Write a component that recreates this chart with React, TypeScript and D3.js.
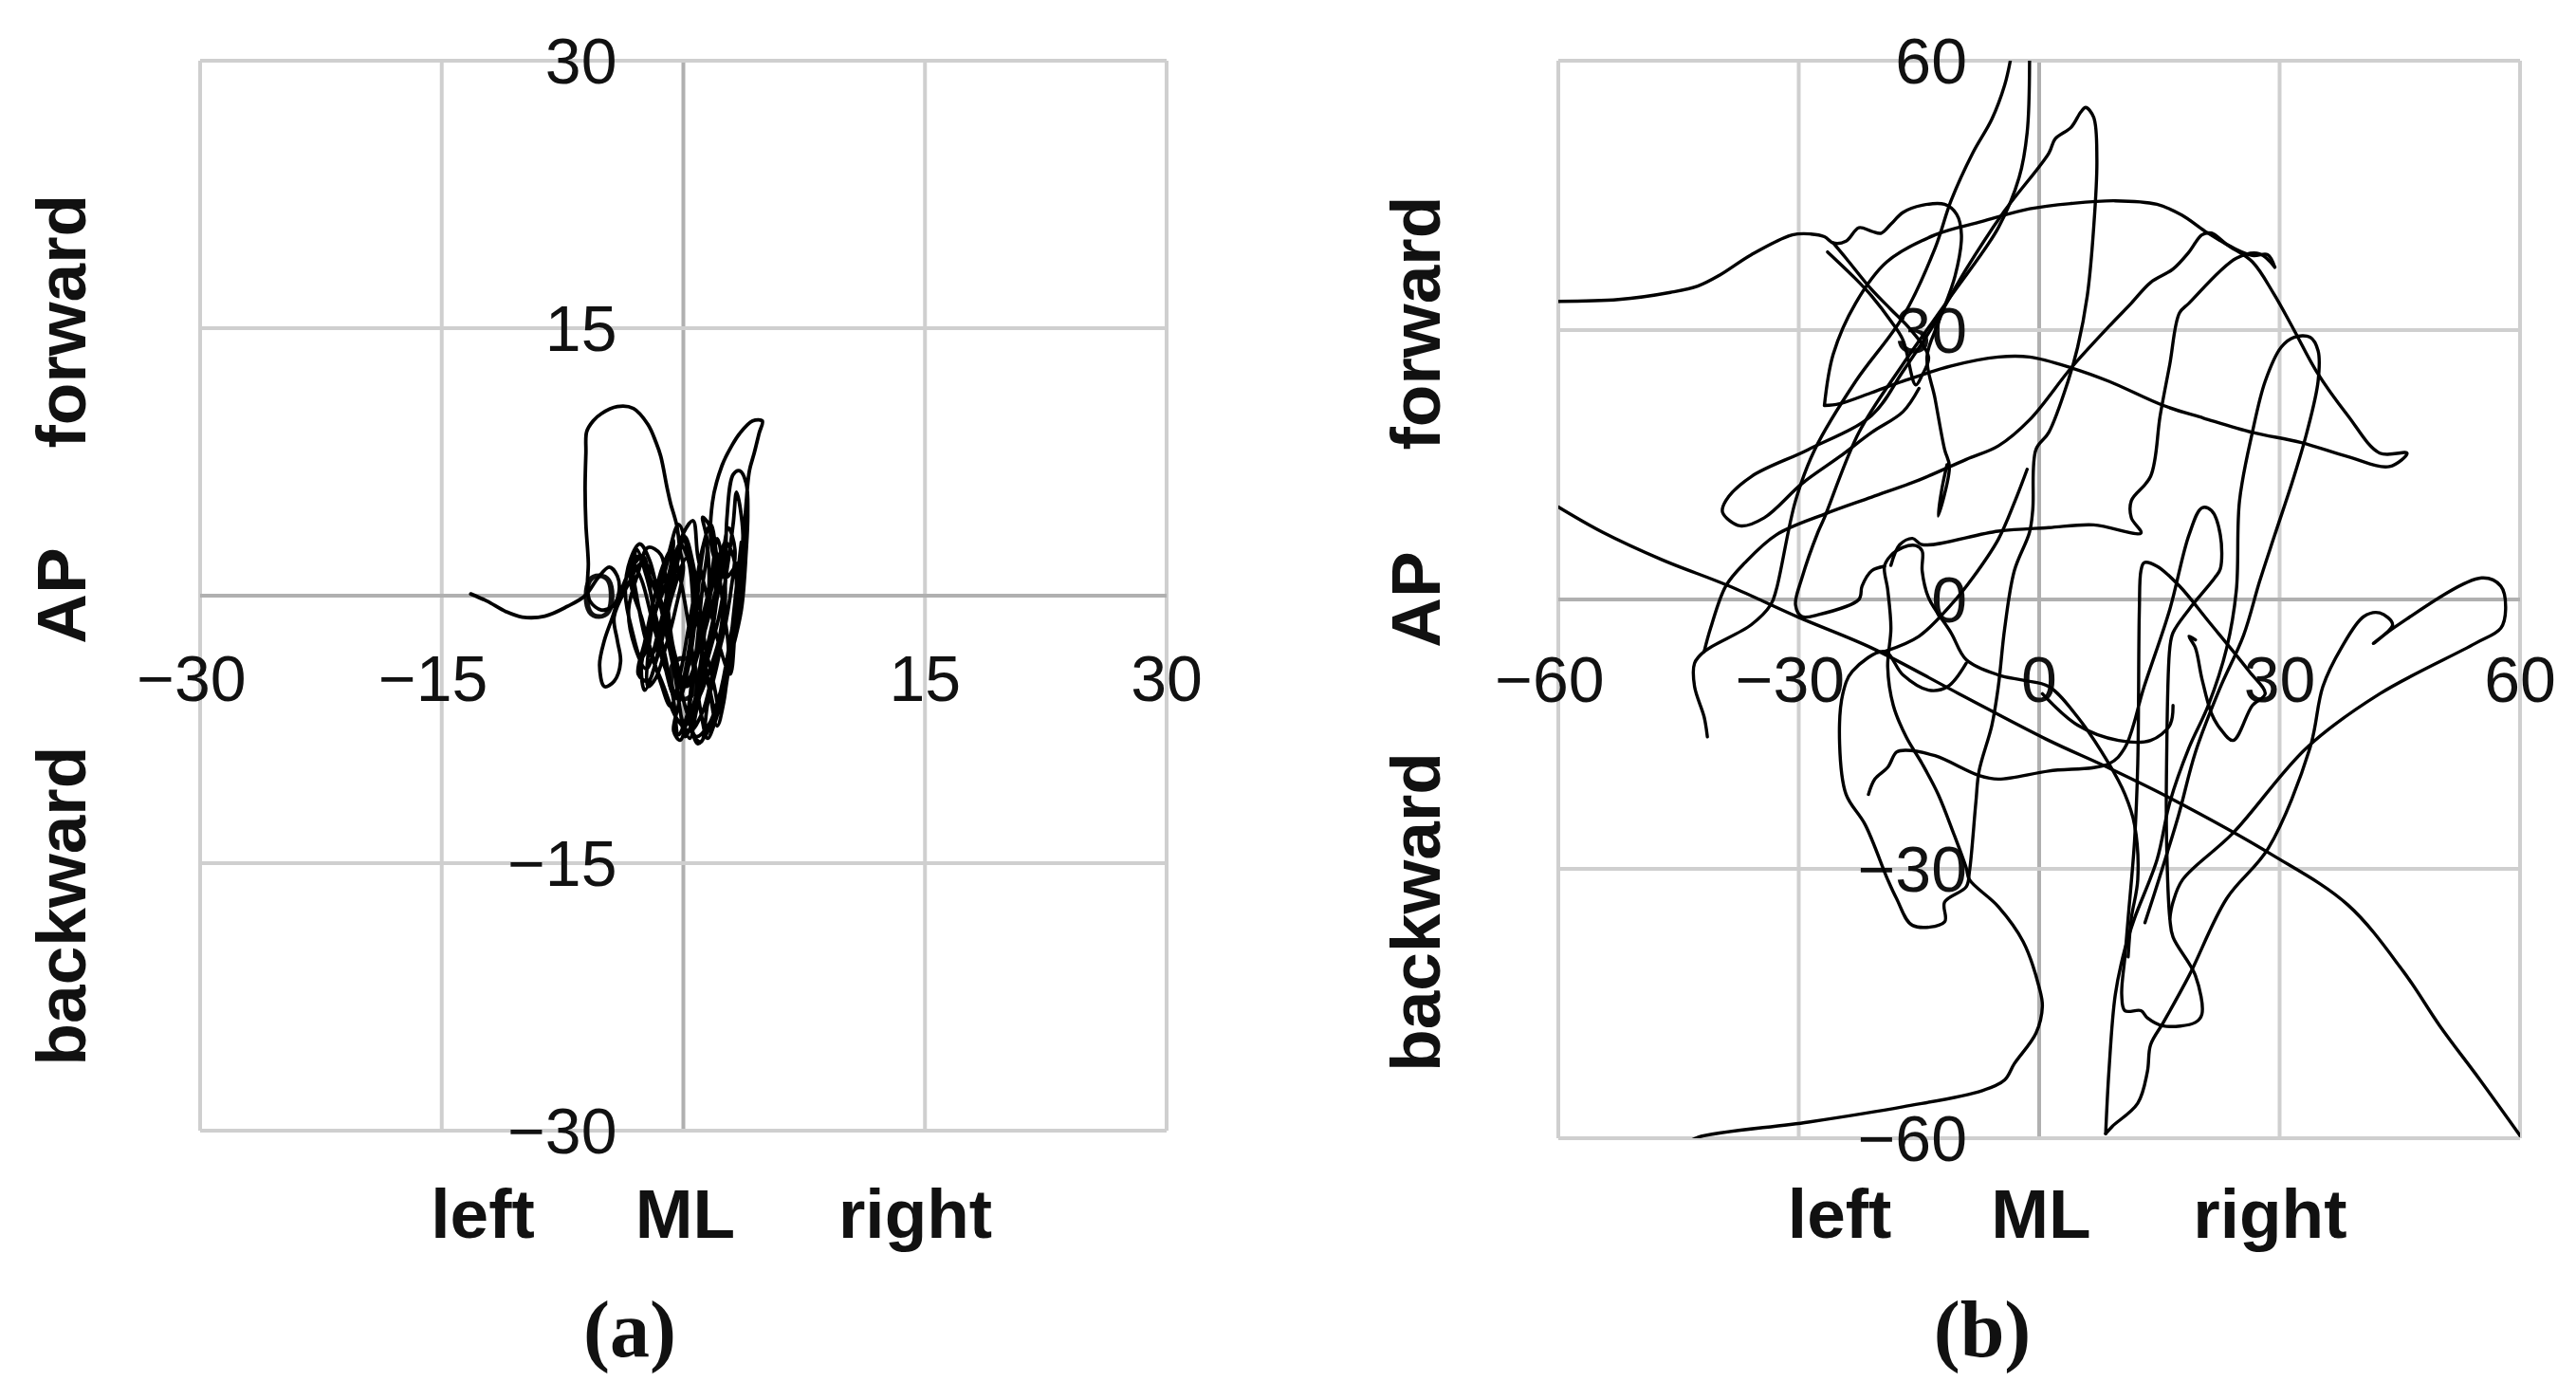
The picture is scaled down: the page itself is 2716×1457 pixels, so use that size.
import React, { useEffect, useRef } from 'react';
import * as d3 from 'd3';

type Pt = [number, number];

// tick values of the two panels
const TICKS_A = [-30, -15, 0, 15, 30];
const TICKS_B = [-60, -30, 0, 30, 60];
const AP_LABELS = ['forward', 'AP', 'backward'];
const ML_LABELS = ['left', 'ML', 'right'];
const CAPTIONS = ['(a)', '(b)'];

// panel (a): one sway trace (ML, AP) in the same units as the ticks
const SWAY_A: Pt[] = [
  [-13.2, 0.1], [-12.2, -0.3], [-11, -0.9], [-10, -1.2], [-8.6, -1.15], [-7.2, -0.6], [-6.1, 0], [-5.3, 1], [-4.6, 1.6],
  [-4.1, 1.1], [-4.0, 0.2], [-4.4, -0.6], [-5.1, -0.8], [-5.8, -0.3], [-5.95, 0.6], [-5.9, 1.8],
  [-6.05, 4], [-6.1, 6], [-6.05, 8], [-6, 9.2], [-5.6, 9.8], [-5.1, 10.2], [-4.1, 10.6], [-3.1, 10.5], [-2.2, 9.6],
  [-1.7, 8.6], [-1.4, 7.8], [-1, 6], [-0.8, 5.2], [-0.4, 3.9], [-0.2, 2.5], [0, 1.6],
  [-0.5, -0.8], [-1.1, -2.9], [-1.7, -4.6], [-2.2, -5.1], [-2.1, -2.6], [-1.4, 0.4], [-0.6, 3.1], [-0.9, 1.2],
  [-1.8, -1.1], [-2.6, -3.9], [-2.4, -5.3], [-1.5, -3.1], [-0.7, 0], [0.2, 2.1], [0.6, -0.9], [0.2, -3.8],
  [-0.3, -6.1], [-0.6, -7.6], [-0.2, -8.1], [0.3, -6.6], [0.8, -3.1], [1.2, 0.6], [1.5, 2.9], [1.2, 4.4],
  [1.8, 3.6], [2, 0.4], [1.6, -3], [1, -5.6], [0.6, -7.8], [1.1, -8.2], [1.5, -6.1], [2.2, -3.4], [2.6, -0.4],
  [2.4, 2.6], [1.9, 1], [1.2, -2.1], [0.4, -4.6], [-0.5, -5.6], [-1.2, -3.8], [-1.9, -1.5], [-2.6, 0.9],
  [-3.2, 1.9], [-2.9, 0], [-2.3, -2.6], [-1.3, -4.9], [-0.4, -6.9], [0.4, -7.6], [1.2, -6.5], [1.8, -4.4],
  [2.5, -2.1], [3, 0.6], [3.2, 2.6], [2.8, 3.8], [2.3, 1.4], [1.6, -1.1], [0.9, -3.3], [0.2, -5.1], [-0.6, -3],
  [-1, -0.4], [-1.4, 2.3], [-2.2, 2.7], [-2.8, 1.3], [-3.4, -0.8], [-3, -2.9], [-2.3, -4.1], [-1.6, -2.2],
  [-0.9, 0.5], [-0.2, 2.9], [0.5, 1.4], [0.9, -1.6], [1.4, -4.1], [2, -6.3], [2.4, -5], [2.9, -2.5], [3.3, -0.1],
  [3.5, 1.9], [2.6, 1], [1.8, 2.5], [1.8, 5.2], [2.4, 7.3], [3, 8.4], [3.5, 9.1], [4.3, 9.8], [4.9, 9.8],
  [4.7, 9.1], [4.4, 8], [4.1, 7], [3.9, 5.2], [3.7, 2.5], [3.5, -0.2], [3.1, -2.8], [2.7, -4.6], [2.1, -6.4],
  [1.4, -7.8], [0.9, -8.3], [0.5, -7], [1.3, -5], [2.2, -2.5], [2.6, 0.5], [2.7, 4.3], [3.1, 6.8], [3.5, 7],
  [3.9, 6.3], [4, 4.5], [3.9, 2.5], [3.6, -0.8], [3, -3.2], [2.3, -5.4], [1.6, -7.2], [0.8, -7.9],
  [0.2, -6.5], [-0.4, -4.2], [-1, -1.8], [-1.8, 0.4], [-2.6, 1.8], [-3.5, 0.5], [-4.3, -1.2], [-4.1, -2.5],
  [-3.9, -3.7], [-4.3, -4.8], [-4.9, -5.1], [-5.2, -3.9], [-4.9, -2.5], [-4.4, -1.2], [-3.9, 0.2], [-3.2, 1.6],
  [-2.5, 2.2], [-2, 0], [-1.6, -2.6], [-1, -4.4], [-0.3, -5.8], [0.4, -3.6], [0.8, -0.8], [1.1, 1.8], [1.4, 3.2],
  [1.6, 1], [1.3, -2.2], [0.9, -4.8], [0.5, -7.2], [0.1, -7.9], [-0.2, -6.4], [-0.7, -3.2], [-1.3, -0.6],
  [-2, 1.4], [-2.9, 2.2], [-3.3, 0.9], [-2.6, -1.2], [-1.9, -3.2], [-1.2, -1.2], [-0.6, 1.6], [0, 3.5],
  [0.6, 4.2], [0.9, 2.2], [1.6, -0.5], [2.3, -3], [2.9, -4.4], [3.2, -2], [3.4, 0.8], [3.7, 3.4], [3.3, 5.8],
  [3.1, 4.1], [2.7, 1.4], [2.2, -1.2], [1.5, -3.6], [0.8, -6], [0.3, -7.2],
  [0.9, -5.2], [1.5, -2.8], [2, -0.6], [2.4, 1.8], [2.1, 3.2], [1.7, 0.8], [1.1, -1.6], [0.6, -4.2], [0.2, -6.8],
  [-0.3, -7.8], [-0.6, -5.9], [-1.1, -3.5], [-1.7, -1.2], [-2.3, 1.1], [-2.9, 2.6], [-3.1, 1.2], [-2.7, -0.9],
  [-2, -3.1], [-1.4, -4.9], [-0.8, -6.2], [-0.2, -4.4], [0.3, -1.9], [0.8, 0.7], [1.2, 2.7], [1.7, 4],
  [2.1, 2], [2.5, -0.8], [2.8, -3.1], [2.5, -5.3], [2, -7], [1.5, -8], [1.1, -6.6], [0.7, -4.1], [0.3, -1.5],
  [-0.2, 1], [-0.7, 2.6], [-1.3, 1.6], [-1.9, -0.5], [-2.4, -2.6], [-2.8, -4.4], [-2.2, -4.8], [-1.5, -2.9],
  [-0.9, -0.7], [-0.4, 1.7], [0.1, 3.3], [0.6, 1.8], [1, -0.6], [1.4, -3], [1.9, -5], [2.3, -6.6], [2.7, -4.8],
  [3, -2.6], [3.3, -0.4], [3.1, 2.2], [2.6, 3], [2.2, 0.6], [1.8, -2], [1.3, -4.4], [0.8, -6.5], [0.4, -8],
  [-0.1, -6.9], [-0.5, -4.6], [-1, -2.4], [-1.6, 0.2], [-2.1, 2], [-2.7, 2.9], [-3.3, 2], [-3.6, 0.1],
  [-3.2, -1.9], [-2.6, -3.5], [-2, -2], [-1.4, 0.6], [-0.9, 2.4], [-0.3, 4], [0.3, 2.4], [0.7, -0.2],
  [1.1, -2.7], [1.6, -5.2], [2.1, -7.3], [2.5, -6], [2.8, -3.8], [3.1, -1.2], [3.4, 1.4], [3.6, 3],
];

const B_SWEEP: Pt[] = [
  [-60, 33.2], [-52.5, 33.4], [-46, 34.2], [-42.6, 34.9], [-39.9, 36.1], [-35.9, 38.4], [-30.8, 40.6],
  [-28.5, 40.7], [-26.8, 40.4], [-25.7, 39.7], [-24.1, 39.9], [-22.5, 41.4], [-20.9, 41], [-19.7, 40.8],
  [-18.5, 41.8], [-17, 43.1], [-14.6, 43.9], [-11.8, 44], [-10.3, 42.9], [-9.7, 40.6], [-10.5, 36],
  [-12.5, 31], [-14, 27], [-13, 22.4], [-11.8, 16.7], [-11.2, 14.8], [-12.6, 9.3], [-12.1, 12.5], [-11.5, 15],
];
const B_BAND: Pt[] = [
  [-26.4, 38.7], [-23, 35.8], [-20.9, 33.8], [-18.5, 31], [-17, 28.9], [-15.4, 23.9], [-14.6, 25],
  [-13.8, 27], [-16, 30], [-18.5, 32.3], [-21, 34.6], [-24.1, 38], [-25.7, 39.7],
];
const B_ARC: Pt[] = [
  [-26.8, 21.6], [-25.7, 27.3], [-22.9, 33], [-19, 37.6], [-13, 40.6], [-7.1, 42.1], [-1.2, 43.5], [4, 44.1],
  [9.5, 44.4], [14.7, 44], [17.8, 42.8], [20.7, 41], [23.8, 39.3], [26.6, 37.6], [29.3, 34], [31.8, 30],
  [34.6, 25.4], [38.5, 20.5], [42.5, 16.3], [45.9, 16.3], [43.7, 14.8], [38.5, 15.9], [32.6, 17.5],
  [26.6, 18.6], [20.5, 20.2], [15.5, 21.6], [8.7, 24.3], [4, 25.8], [-1.2, 27], [-5.1, 27], [-11, 26],
  [-17, 24.3], [-21, 23], [-24.9, 21.8], [-26.8, 21.6],
];
const B_SPIKE: Pt[] = [
  [-15, 23.5], [-17, 20.9], [-20.9, 18.6], [-24.9, 15.9], [-29.6, 12.9], [-34.3, 9.1], [-37.3, 8.2],
  [-39.5, 9.7], [-39.1, 11], [-35.9, 13.7], [-28.8, 16.7], [-20.9, 20.5], [-17, 25.4], [-13, 30.8],
  [-9.1, 36.8], [-4.3, 43.3], [1.2, 49.7], [2, 51.3], [4, 52.6], [5.2, 54.3], [5.8, 54.8], [6.8, 53.7],
  [7.2, 49], [6.8, 41.4], [6, 33.8], [4.8, 28.1], [3.6, 24.3], [1.2, 18.6], [-0.4, 16.7], [-0.8, 10],
  [-1.2, 7.5], [-3.1, 3.2], [-4.3, -3.2], [-5.1, -9.7], [-5.9, -14], [-7.5, -19.1], [-7.9, -22.6],
  [-8.7, -30.3], [-9.1, -32], [-11.8, -33.7], [-11.8, -35.9], [-15.8, -36.3], [-17.8, -33.3], [-18.9, -31.2],
  [-21.7, -25.1], [-24.1, -21.7], [-24.9, -16.1], [-24.5, -10.5], [-23.3, -8], [-19.3, -5.8], [-17, -8.4],
  [-13.8, -10.1], [-11.4, -9.7], [-9.1, -7.1],
];
const B_RISE: Pt[] = [
  [-19.3, -5.8], [-15, -4.1], [-11, -0.6], [-8.3, 2.4], [-5.1, 6.7], [-3, 11], [-1.5, 14.5],
];
const B_HOOK: Pt[] = [
  [-41.4, -15.3], [-41.8, -13.1], [-43, -9.7], [-43, -7.1], [-41.8, -5.8], [-35.9, -2.8], [-33.5, -0.6],
  [-32.8, 1.1], [-30.4, 11], [-28, 16.7], [-22.9, 24.3], [-17, 31.5], [-13, 39.1], [-11, 44.4], [-8.3, 49.7],
  [-5.9, 53.5], [-4.3, 57.3], [-3.6, 60],
];
const B_CURVE: Pt[] = [
  [-41.8, -5.8], [-41, -3.2], [-39.1, 1.5], [-36.7, 4.1], [-32.8, 7.2], [-26.8, 9.5], [-20.9, 11.4],
  [-15, 13.3], [-9.1, 15.6], [-5.1, 17.1], [-1.2, 20], [4, 25.8], [8.7, 30.4], [11.5, 33], [13.9, 35.3],
  [16.7, 36.8], [18.7, 38.7], [20.3, 40.6], [21.5, 40.8], [23.5, 39.5], [26.6, 38.3], [28.5, 38.4], [29.4, 37],
];
const B_CENTER: Pt[] = [
  [-19.3, 3.7], [-20.9, 3.2], [-22.1, 1.5], [-22.5, 0], [-27.6, -1.7], [-29.6, -1.9], [-30.4, -0.6],
  [-29.6, 2.4], [-27.6, 7.5], [-26.8, 9.1], [-22.5, 18.6], [-17, 26.2], [-11, 33.8], [-5.1, 41.4],
  [-2.5, 47], [-1.5, 52], [-1.2, 60],
];
const B_DOWN: Pt[] = [
  [-44, -60.6], [-42.6, -59.9], [-28.8, -58.2], [-17, -56.5], [-7.1, -54.7], [-4.3, -53.5], [-3.1, -51.7],
  [-0.4, -48.3], [0.4, -45.3], [0, -43.2], [-2, -38.1], [-5.1, -34.2], [-8.7, -31.2], [-9.1, -29.9],
  [-10.7, -26], [-12.6, -21.7], [-14.6, -18.3], [-16.6, -15.3], [-18.2, -11.8], [-18.9, -7.5], [-18.5, -3.2],
  [-18.9, 1.1], [-19.3, 3.7], [-18.5, 4.9], [-17, 5.8], [-15.4, 6], [-14.6, 5.4], [-14.6, 3.2], [-13.8, 0.2],
  [-11, -3.7], [-9.1, -6.7], [-5.1, -8.4], [-2, -9], [1.2, -9.7], [4.8, -13.1], [8.7, -18.3], [10.7, -21.7],
  [11.9, -25.1], [12.3, -31.2], [11.5, -35.5], [11.1, -39.8],
];
const B_NOTCH: Pt[] = [
  [0.4, -10.5], [4.8, -14], [9.9, -15.7], [13.9, -15.7], [16.3, -14], [16.7, -11.8],
];
const B_BLOB: Pt[] = [
  [-21.3, -21.7], [-20.5, -20], [-18.9, -18.7], [-17.8, -17], [-16.6, -16.8], [-13, -17.4], [-7.5, -19.6],
  [-5.1, -20], [1.2, -19.1], [8.7, -18.3], [10.7, -16.5], [13.1, -9.7], [16.3, -1.1], [18.7, 7.2], [20.3, 10.2],
  [21.5, 9.9], [22.6, 7.2], [22.6, 3.4], [21.9, 2.4], [18.7, -1.1], [16.7, -3.7], [16.3, -5.4], [15.9, -18.3],
  [15.9, -26.9], [16.3, -35.5], [16.7, -37.6], [19.5, -41.9], [20.3, -46.2], [19.5, -47.1], [15.5, -47.5],
  [13.5, -46.6], [12.7, -45.8], [10.7, -45.8], [10.3, -44], [10.7, -39.8], [11.1, -35.5], [11.9, -26.9],
  [12.3, -18.3], [12.5, -1.1], [12.7, 3.2], [13.1, 4.1], [14.7, 3.7], [17.5, 1.5], [21.1, -2.4], [26.2, -8],
  [28.2, -10.5], [26.6, -11.8], [24.2, -15.7], [22.6, -14.4], [21.5, -12.7], [20.3, -8.8], [19.5, -5.4],
  [18.7, -4.1], [19.5, -4.5],
];
const B_LONG: Pt[] = [
  [29.4, 37], [27.5, 38.5], [24.6, 38], [18.7, 33], [17.5, 31.9], [16.3, 26.2], [15.1, 20.5], [13.9, 13.7],
  [11.5, 11], [11.5, 9.1], [12.7, 7.4], [6.8, 8.3], [1.2, 8], [-5.1, 7.6], [-14.6, 6.1], [-15.8, 6.8],
  [-17.4, 6.1], [-18.5, 3.8],
];
const B_LOOP: Pt[] = [
  [8.3, -59.5], [8.7, -52.6], [9.5, -44], [10.7, -38.9], [11.9, -35.5], [14.7, -29], [16.3, -22.6],
  [18.7, -16.5], [21.1, -11.8], [23.4, -5.4], [24.6, 1], [25, 11], [26.6, 18.6], [28.2, 24.3], [30.2, 28.1],
  [31.8, 29.2], [33.8, 29.2], [34.8, 27.7], [34.8, 24.3], [33.4, 18.6], [31.8, 13.7], [29.4, 7.2], [27.5, 2],
  [25.5, -4], [22.5, -10], [19.5, -17], [17.4, -24], [15, -31], [13.2, -36],
];
const B_TAIL: Pt[] = [
  [8.3, -59.5], [9.1, -58.7], [12.3, -56.1], [13.5, -52.6], [13.9, -49.6], [15.5, -47.1], [18.7, -41.9],
  [23.4, -33.3], [28.6, -27.7], [33.8, -16.5], [35.4, -9.7], [37.7, -5.4], [40.5, -1.9], [42.5, -1.5],
  [44.1, -2.8], [41.7, -4.9], [44.5, -3], [55.2, 2.4], [57.6, 1.5], [58.2, -1.1], [57.6, -3.2], [54.4, -4.9],
  [42.5, -10.5], [33.4, -16.5], [24.2, -26], [17.9, -31.2], [16.7, -33.7], [16.3, -35.5],
];
const B_DRIFT: Pt[] = [
  [-60, 10.3], [-54.5, 7.5], [-47, 4.4], [-38.7, 1.5], [-30, -2], [-20.9, -5.4], [-10, -10.5], [1.2, -15.7],
  [8.3, -18.6], [16.3, -22.1], [29, -28.4], [38.5, -34], [45.5, -41.5], [50, -47.5], [55, -53.5], [60, -59.7],
];

const SWAY_B: Pt[][] = [
  B_SWEEP, B_BAND, B_ARC, B_SPIKE, B_RISE, B_HOOK, B_CURVE, B_CENTER, B_DOWN,
  B_NOTCH, B_BLOB, B_LONG, B_LOOP, B_TAIL, B_DRIFT,
];

const W = 2716;
const H = 1457;
const GRID = '#cfcfcf';
const AXIS = '#b0b0b0';
const SANS = "'Liberation Sans', Arial, sans-serif";
const SERIF = "'Liberation Serif', 'Times New Roman', serif";

interface Panel {
  id: string;
  max: number;
  ticks: number[];
  left: number;
  right: number;
  top: number;
  bottom: number;
  yLabelGap: number;
  xLabelDrop: number;
  titleX: number;
  captionX: number;
  traces: Pt[][];
  lineWidth: number;
}

const PANELS: Panel[] = [
  {
    id: 'a', max: 30, ticks: TICKS_A, left: 211, right: 1230, top: 64, bottom: 1192,
    yLabelGap: 70, xLabelDrop: 87, titleX: 90, captionX: 664, traces: [SWAY_A], lineWidth: 3.8,
  },
  {
    id: 'b', max: 60, ticks: TICKS_B, left: 1643, right: 2657, top: 64, bottom: 1200,
    yLabelGap: 76, xLabelDrop: 84, titleX: 1518, captionX: 2090, traces: SWAY_B, lineWidth: 3.4,
  },
];

export default function App() {
  const svgRef = useRef<SVGSVGElement>(null);

  useEffect(() => {
    if (!svgRef.current) return;
    const svg = d3.select(svgRef.current);
    svg.selectAll('*').remove();

    PANELS.forEach((p, pi) => {
      const x = d3.scaleLinear().domain([-p.max, p.max]).range([p.left, p.right]);
      const y = d3.scaleLinear().domain([-p.max, p.max]).range([p.bottom, p.top]);
      const g = svg.append('g');

      g.append('clipPath').attr('id', `clip-${p.id}`)
        .append('rect')
        .attr('x', p.left).attr('y', p.top)
        .attr('width', p.right - p.left).attr('height', p.bottom - p.top);

      // grid (zero lines a bit darker, drawn last)
      const sorted = [...p.ticks].sort((a, b) => Math.abs(b) - Math.abs(a));
      g.selectAll('line.gx').data(sorted).join('line')
        .attr('class', 'gx')
        .attr('x1', d => x(d)).attr('x2', d => x(d))
        .attr('y1', p.top).attr('y2', p.bottom)
        .attr('stroke', d => (d === 0 ? AXIS : GRID))
        .attr('stroke-width', 4);
      g.selectAll('line.gy').data(sorted).join('line')
        .attr('class', 'gy')
        .attr('y1', d => y(d)).attr('y2', d => y(d))
        .attr('x1', p.left).attr('x2', p.right)
        .attr('stroke', d => (d === 0 ? AXIS : GRID))
        .attr('stroke-width', 4);

      const fmt = d3.format('d');

      // tick labels on the zero axes
      g.selectAll('text.tx').data(p.ticks).join('text')
        .attr('class', 'tx')
        .attr('x', d => x(d) + (d < 0 ? -9 : 0))
        .attr('y', y(0) + p.xLabelDrop)
        .attr('dy', '0.36em')
        .attr('text-anchor', 'middle')
        .style('font-family', SANS)
        .style('font-size', '68px')
        .style('fill', '#111')
        .text(d => fmt(d));
      g.selectAll('text.ty').data(p.ticks).join('text')
        .attr('class', 'ty')
        .attr('x', x(0) - p.yLabelGap)
        .attr('y', d => y(d))
        .attr('dy', '0.36em')
        .attr('text-anchor', 'end')
        .style('font-family', SANS)
        .style('font-size', '68px')
        .style('fill', '#111')
        .text(d => fmt(d));

      // traces
      const line = d3.line<Pt>()
        .x(d => x(d[0]))
        .y(d => y(d[1]))
        .curve(d3.curveCatmullRom.alpha(0.5));
      g.append('g')
        .attr('clip-path', `url(#clip-${p.id})`)
        .selectAll('path')
        .data(p.traces)
        .join('path')
        .attr('d', d => line(d))
        .attr('fill', 'none')
        .attr('stroke', '#000')
        .attr('stroke-width', p.lineWidth)
        .attr('stroke-linejoin', 'round')
        .attr('stroke-linecap', 'round');

      // AP titles (rotated)
      const halfH = (p.bottom - p.top) / 2;
      const apY = [y(0) - halfH * 0.513, y(0), y(0) + halfH * 0.58];
      g.selectAll('text.ap').data(AP_LABELS).join('text')
        .attr('class', 'ap')
        .attr('transform', (d, i) => `translate(${p.titleX},${apY[i]}) rotate(-90)`)
        .attr('text-anchor', 'middle')
        .style('font-family', SANS)
        .style('font-weight', 'bold')
        .style('font-size', '73px')
        .style('fill', '#111')
        .text(d => d);

      // ML titles
      const halfW = (p.right - p.left) / 2;
      const mlX = [x(0) - halfW * 0.415, x(0) + 2, x(0) + halfW * 0.48];
      g.selectAll('text.ml').data(ML_LABELS).join('text')
        .attr('class', 'ml')
        .attr('x', (d, i) => mlX[i])
        .attr('y', 1305)
        .attr('text-anchor', 'middle')
        .style('font-family', SANS)
        .style('font-weight', 'bold')
        .style('font-size', '73px')
        .style('fill', '#111')
        .text(d => d);

      g.append('text')
        .attr('x', p.captionX)
        .attr('y', 1430)
        .attr('text-anchor', 'middle')
        .style('font-family', SERIF)
        .style('font-weight', 'bold')
        .style('font-size', '84px')
        .style('fill', '#111')
        .text(CAPTIONS[pi]);
    });
  }, []);

  return (
    <div style={{ position: 'absolute', left: 0, top: 0 }}>
      <svg ref={svgRef} width={W} height={H} style={{ display: 'block', background: '#fff' }} />
    </div>
  );
}
